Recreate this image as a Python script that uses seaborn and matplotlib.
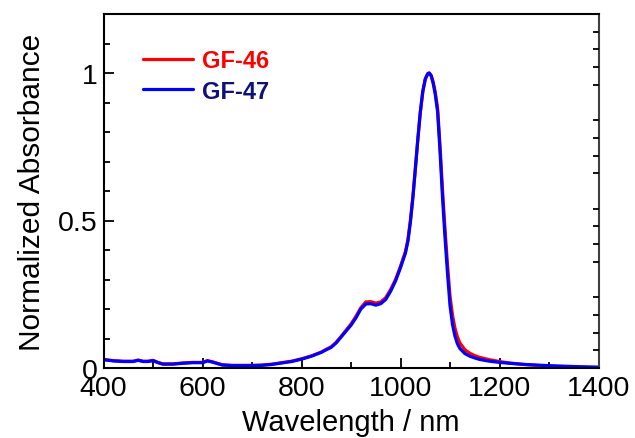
import numpy as np
import pandas as pd
import matplotlib
matplotlib.use("Agg")
import matplotlib.pyplot as plt
import seaborn as sns
from matplotlib.ticker import FixedLocator, FixedFormatter, NullFormatter

# ---------------- data ----------------
wavelength = [400, 420, 440, 460, 470, 480, 490, 500, 510, 520, 540, 560, 580,
              600, 610, 620, 640, 660, 680, 700, 720, 740, 760, 780, 800, 820,
              840, 850, 860, 870, 880, 890, 900, 910, 920, 930, 940, 950, 960,
              970, 980, 990, 1000, 1010, 1015, 1020, 1025, 1030, 1035, 1040,
              1045, 1050, 1055, 1058, 1062, 1066, 1070, 1075, 1080, 1085, 1090,
              1095, 1100, 1105, 1110, 1115, 1120, 1130, 1140, 1150, 1160, 1180,
              1200, 1220, 1250, 1300, 1350, 1400]

gf46 = [0.029, 0.025, 0.023, 0.023, 0.027, 0.023, 0.023, 0.026, 0.019, 0.014,
        0.014, 0.017, 0.019, 0.019, 0.025, 0.021, 0.011, 0.009, 0.009, 0.009,
        0.010, 0.013, 0.018, 0.023, 0.031, 0.041, 0.054, 0.063, 0.072, 0.087,
        0.107, 0.128, 0.149, 0.175, 0.205, 0.224, 0.225, 0.220, 0.224, 0.238,
        0.266, 0.300, 0.345, 0.395, 0.435, 0.500, 0.580, 0.675, 0.775, 0.865,
        0.935, 0.978, 0.997, 1.000, 0.992, 0.970, 0.937, 0.880, 0.750, 0.600,
        0.470, 0.350, 0.245, 0.180, 0.135, 0.105, 0.085, 0.062, 0.050, 0.042,
        0.036, 0.028, 0.022, 0.017, 0.012, 0.006, 0.002, 0.000]

gf47 = [0.028, 0.024, 0.022, 0.022, 0.026, 0.022, 0.022, 0.025, 0.018, 0.013,
        0.013, 0.016, 0.018, 0.018, 0.024, 0.020, 0.010, 0.008, 0.008, 0.008,
        0.009, 0.012, 0.017, 0.022, 0.030, 0.040, 0.053, 0.062, 0.070, 0.085,
        0.105, 0.125, 0.145, 0.170, 0.200, 0.217, 0.218, 0.213, 0.218, 0.232,
        0.260, 0.295, 0.340, 0.390, 0.430, 0.495, 0.578, 0.675, 0.775, 0.868,
        0.938, 0.980, 0.998, 1.000, 0.990, 0.965, 0.930, 0.868, 0.730, 0.575,
        0.440, 0.320, 0.212, 0.148, 0.108, 0.082, 0.066, 0.049, 0.040, 0.034,
        0.029, 0.023, 0.019, 0.016, 0.012, 0.008, 0.005, 0.003]

series_names = ["GF-46", "GF-47"]
line_colors = ["#ff0000", "#0000ff"]
text_colors = ["#ff0000", "#10107a"]

x_major = [400, 600, 800, 1000, 1200, 1400]
x_minor = [500, 700, 900, 1100, 1300]
y_major = [0, 0.5, 1]
y_major_labels = ["0", "0.5", "1"]
y_minor = [0.1, 0.2, 0.3, 0.4, 0.6, 0.7, 0.8, 0.9, 1.1]
y_right_minor = [0.06, 0.12, 0.18, 0.24, 0.36, 0.42, 0.48, 0.54,
                 0.66, 0.72, 0.78, 0.84, 0.96, 1.02, 1.08, 1.14]

# ---------------- fonts ----------------
sns.set_style("ticks")
base_font = "Liberation Sans"
plt.rcParams["font.family"] = [base_font, "DejaVu Sans"]

df = pd.DataFrame({
    "Wavelength": wavelength * 2,
    "Absorbance": gf46 + gf47,
    "Sample": [series_names[0]] * len(wavelength) + [series_names[1]] * len(wavelength),
})

W, H = 635, 439
fig = plt.figure(figsize=(W / 100, H / 100), dpi=100)
ax = fig.add_axes([103.5 / W, (H - 369) / H, 495 / W, 354 / H])

sns.lineplot(data=df, x="Wavelength", y="Absorbance", hue="Sample",
             palette=dict(zip(series_names, line_colors)), linewidth=2.3,
             legend=False, ax=ax, sort=False)

ax.set_xlim(400, 1400)
ax.set_ylim(0, 1.2)

ax.xaxis.set_major_locator(FixedLocator(x_major))
ax.xaxis.set_minor_locator(FixedLocator(x_minor))
ax.yaxis.set_major_locator(FixedLocator(y_major))
ax.yaxis.set_major_formatter(FixedFormatter(y_major_labels))
ax.yaxis.set_minor_locator(FixedLocator(y_minor))

ax.tick_params(axis="both", which="major", direction="in", length=7.5, width=1.3,
               color="black", top=False, right=False, labelsize=20.5,
               labelcolor="black")
ax.tick_params(axis="both", which="minor", direction="in", length=4, width=1.3,
               color="black", top=False, right=False)
ax.tick_params(axis="x", which="major", pad=5)
ax.tick_params(axis="y", which="major", pad=4)

ax.set_xlabel("Wavelength / nm", fontsize=21, labelpad=5, color="black")
ax.set_ylabel("Normalized Absorbance", fontsize=21.5, labelpad=9, color="black")

for side in ["left", "bottom", "top"]:
    ax.spines[side].set_linewidth(1.5)
    ax.spines[side].set_color("black")
ax.spines["right"].set_visible(True)
ax.spines["right"].set_linewidth(1.5)
ax.spines["right"].set_color("#404040")
ax.spines["top"].set_visible(True)

# right axis with only minor ticks
axr = ax.twinx()
axr.set_ylim(0, 1.2)
axr.yaxis.set_major_locator(FixedLocator([]))
axr.yaxis.set_minor_locator(FixedLocator(y_right_minor))
axr.yaxis.set_minor_formatter(NullFormatter())
axr.tick_params(axis="y", which="minor", direction="in", length=4, width=1.3,
                color="black", right=True, left=False)
for side in ["left", "bottom", "top", "right"]:
    axr.spines[side].set_visible(False)

# legend
handles = ax.get_lines()[:2]
leg = ax.legend(handles, series_names, loc="upper left",
                bbox_to_anchor=((143 - 103.5) / 495, (369 - 50) / 354),
                borderaxespad=0, borderpad=0, frameon=False,
                handlelength=2.1, handletextpad=0.4, labelspacing=0.32,
                prop={"family": base_font, "weight": "bold", "size": 17},
                labelcolor=text_colors)

fig.savefig("out.png", dpi=100)
